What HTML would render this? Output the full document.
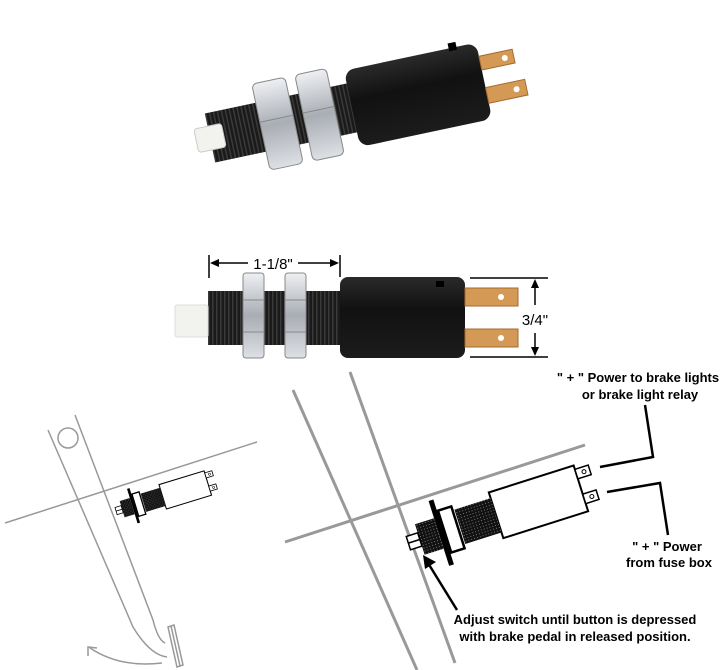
<!DOCTYPE html>
<html><head><meta charset="utf-8"><style>
html,body{margin:0;padding:0;background:#fff;}
svg{display:block;}
text{font-family:"Liberation Sans",sans-serif;}
</style></head><body>
<svg width="724" height="670" viewBox="0 0 724 670" xmlns="http://www.w3.org/2000/svg">
<defs>
<pattern id="thr" width="4" height="4" patternUnits="userSpaceOnUse"><rect width="4" height="4" fill="#1a1a1a"/><rect width="1.5" height="4" fill="#3a3a3a"/></pattern>
<pattern id="dot" width="3" height="3" patternUnits="userSpaceOnUse"><rect width="3" height="3" fill="#111"/><rect width="1" height="1" fill="#777"/></pattern>
<linearGradient id="nut" x1="0" y1="0" x2="0" y2="1"><stop offset="0" stop-color="#eef0f3"/><stop offset="0.5" stop-color="#a9adb4"/><stop offset="1" stop-color="#dde0e4"/></linearGradient>
<linearGradient id="blk" x1="0" y1="0" x2="0" y2="1"><stop offset="0" stop-color="#2a2a2a"/><stop offset="0.4" stop-color="#111"/><stop offset="1" stop-color="#1c1c1c"/></linearGradient>
<g id="sw">
<rect x="-44" y="-24" width="89" height="48" fill="#fff" stroke="#000" stroke-width="2"/>
<rect x="-82" y="-18" width="38" height="36" fill="url(#dot)"/>
<rect x="-98" y="-22" width="14" height="44" fill="#fff" stroke="#000" stroke-width="2.5"/>
<rect x="-104" y="-34" width="5" height="68" fill="#000"/>
<rect x="-124" y="-16" width="20" height="32" fill="url(#dot)"/>
<rect x="-136" y="-7" width="12" height="14" fill="#fff" stroke="#000" stroke-width="1.5"/>
<line x1="-136" y1="0" x2="-124" y2="0" stroke="#000" stroke-width="1.5"/>
<rect x="45" y="-20" width="14" height="10" fill="#fff" stroke="#000" stroke-width="1.5"/>
<circle cx="53" cy="-15" r="2" fill="none" stroke="#000"/>
<rect x="45" y="6" width="14" height="10" fill="#fff" stroke="#000" stroke-width="1.5"/>
<circle cx="53" cy="11" r="2" fill="none" stroke="#000"/>
</g>
</defs>

<!-- Photo 1 -->
<g transform="translate(210,138) rotate(-12)">
<rect x="0" y="-25" width="152" height="50" fill="url(#thr)"/>
<rect x="-14" y="-12" width="28" height="24" rx="3" fill="#f2f2ee" stroke="#ccc"/>
<rect x="52" y="-44" width="34" height="88" rx="5" fill="url(#nut)" stroke="#888"/>
<line x1="52" y1="-5" x2="86" y2="-5" stroke="#888"/>
<rect x="96" y="-44" width="32" height="88" rx="5" fill="url(#nut)" stroke="#888"/>
<line x1="96" y1="-5" x2="128" y2="-5" stroke="#888"/>
<rect x="145" y="-38" width="135" height="78" rx="10" fill="url(#blk)"/>
<rect x="252" y="-43" width="8" height="8" fill="#000"/>
<rect x="280" y="-24" width="34" height="14" fill="#d49a55" stroke="#a56a30"/>
<circle cx="305" cy="-17" r="3" fill="#fff"/>
<rect x="280" y="8" width="40" height="16" fill="#d49a55" stroke="#a56a30"/>
<circle cx="310" cy="16" r="3" fill="#fff"/>
</g>

<!-- Photo 2 -->
<rect x="208" y="291" width="134" height="54" fill="url(#thr)"/>
<rect x="175" y="305" width="33" height="32" rx="2" fill="#f2f2ee" stroke="#ddd"/>
<rect x="243" y="273" width="21" height="85" rx="3" fill="url(#nut)" stroke="#888"/>
<line x1="243" y1="300" x2="264" y2="300" stroke="#888"/><line x1="243" y1="332" x2="264" y2="332" stroke="#888"/>
<rect x="285" y="273" width="21" height="85" rx="3" fill="url(#nut)" stroke="#888"/>
<line x1="285" y1="300" x2="306" y2="300" stroke="#888"/><line x1="285" y1="332" x2="306" y2="332" stroke="#888"/>
<rect x="340" y="277" width="125" height="81" rx="8" fill="url(#blk)"/>
<rect x="436" y="281" width="8" height="6" fill="#000"/>
<rect x="465" y="288" width="53" height="18" fill="#d49a55" stroke="#a56a30"/>
<circle cx="501" cy="297" r="3" fill="#fff"/>
<rect x="465" y="329" width="53" height="18" fill="#d49a55" stroke="#a56a30"/>
<circle cx="501" cy="338" r="3" fill="#fff"/>
<!-- dims -->
<g stroke="#000" stroke-width="1.5" fill="none">
<line x1="209" y1="255" x2="209" y2="278"/><line x1="340" y1="255" x2="340" y2="277"/>
<line x1="212" y1="263" x2="248" y2="263"/><line x1="298" y1="263" x2="337" y2="263"/>
<line x1="470" y1="278" x2="548" y2="278"/><line x1="470" y1="357" x2="548" y2="357"/>
<line x1="535" y1="281" x2="535" y2="305"/><line x1="535" y1="333" x2="535" y2="354"/>
</g>
<g fill="#000">
<polygon points="210,263 219,259 219,267"/><polygon points="339,263 330,259 330,267"/>
<polygon points="535,279 531,288 539,288"/><polygon points="535,356 531,347 539,347"/>
</g>
<text x="273" y="269" font-size="15" text-anchor="middle">1-1/8"</text>
<text x="535" y="325" font-size="15" text-anchor="middle">3/4"</text>

<!-- Small diagram -->
<g stroke="#999" stroke-width="1.5" fill="none">
<line x1="5" y1="523" x2="257" y2="442"/>
<path d="M48,430 L133,627 Q150,655 167,657"/>
<path d="M75,415 L153,620 Q158,640 165,643"/>
<circle cx="68" cy="438" r="10"/>
<path d="M162,663 Q120,668 90,648"/>
</g>
<g fill="none" stroke="#999" stroke-width="1.5">
<polygon points="168,627 174,625 183,665 177,667"/>
<line x1="171" y1="626" x2="180" y2="666"/>
<polyline points="88,656 88,647 97,648"/>
</g>
<g transform="translate(185,490) rotate(-17) scale(0.53)"><use href="#sw"/></g>

<!-- Large diagram -->
<g stroke="#999" stroke-width="3" fill="none">
<line x1="293" y1="390" x2="417" y2="670"/>
<line x1="350" y1="372" x2="455" y2="663"/>
<line x1="285" y1="542" x2="585" y2="445"/>
</g>
<g transform="translate(538,502) rotate(-17.6)"><use href="#sw"/></g>
<g stroke="#000" stroke-width="2.5" fill="none">
<polyline points="600,467 653,457 645,405"/>
<polyline points="607,492 660,483 668,535"/>
<line x1="457" y1="610" x2="428" y2="563"/>
</g>
<polygon points="423,555 436,562 425,569" fill="#000"/>
<g font-weight="bold" font-size="13" text-anchor="middle" fill="#000">
<text x="638" y="382">" + " Power to brake lights</text>
<text x="640" y="399">or brake light relay</text>
<text x="667" y="551">" + " Power</text>
<text x="669" y="567">from fuse box</text>
<text x="575" y="624">Adjust switch until button is depressed</text>
<text x="575" y="641">with brake pedal in released position.</text>
</g>
</svg>
</body></html>
